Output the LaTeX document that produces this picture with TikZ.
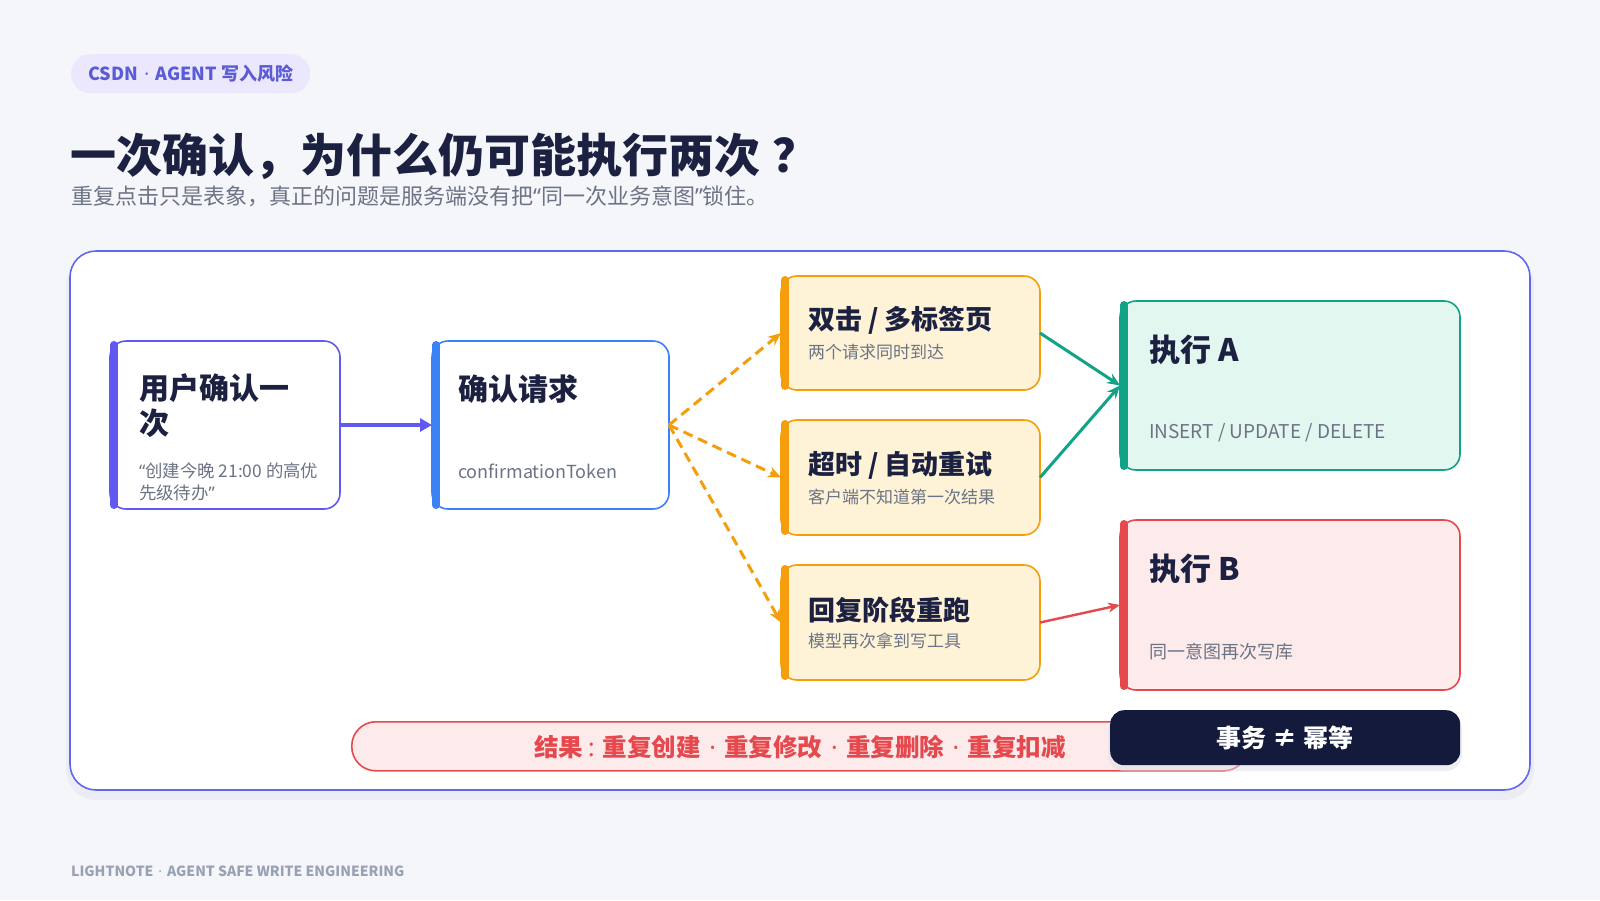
\documentclass[tikz,border=0pt]{standalone}
\usepackage{fontspec}
\setmainfont{Noto Sans CJK SC}
\newfontfamily\latinf{Noto Sans}
\newcommand{\mdot}{\hspace{0.35em}{\latinf ·}\hspace{0.35em}}
\newcommand{\myLQ}{{\latinf “}}
\newcommand{\myRQ}{{\latinf ”}}
\usetikzlibrary{arrows.meta}
\definecolor{bgc}{HTML}{F5F6FA}
\definecolor{ink}{HTML}{1C2142}
\definecolor{muted}{HTML}{6B7385}
\definecolor{indigo}{HTML}{6366F1}
\definecolor{tagfill}{HTML}{EBE8FD}
\definecolor{tagtext}{HTML}{5B5BD6}
\definecolor{purp}{HTML}{6058F0}
\definecolor{bluec}{HTML}{3B82F6}
\definecolor{orangec}{HTML}{F59E0B}
\definecolor{creamc}{HTML}{FEF3D7}
\definecolor{tealc}{HTML}{12A386}
\definecolor{mintc}{HTML}{E3F7F1}
\definecolor{redc}{HTML}{E5484D}
\definecolor{pinkc}{HTML}{FDEAEA}
\definecolor{navyc}{HTML}{131A3B}
\definecolor{footc}{HTML}{98A2B3}
\definecolor{shadowc}{HTML}{DCDFEA}
\begin{document}
\begin{tikzpicture}[x=1pt,y=-1pt,
  card/.style={rectangle, rounded corners=16pt, line width=1.6pt, inner sep=0pt, outer sep=0pt, anchor=north west},
  bar/.style={line width=8pt, line cap=round},
  ttl/.style={anchor=west, inner sep=0pt, outer sep=0pt, font=\bfseries\fontsize{30}{35}\selectfont, text=ink, align=left},
  ottl/.style={ttl, font=\bfseries\fontsize{27}{32}\selectfont},
  sub/.style={anchor=west, inner sep=0pt, outer sep=0pt, font=\fontsize{18}{22}\selectfont, text=muted, align=left},
  osub/.style={sub, font=\fontsize{17}{20}\selectfont},
  flow/.style={line width=3pt}
]
\useasboundingbox (0,0) rectangle (1600,900);
\fill[bgc] (0,0) rectangle (1600,900);

% header
\node[rectangle, rounded corners=19pt, fill=tagfill, minimum width=239pt, minimum height=39pt, anchor=north west, inner sep=0pt] (tag) at (71,54) {};
\node[font=\bfseries\fontsize{18}{22}\selectfont, text=tagtext, inner sep=0pt] (tagt) at (tag.center) {CSDN\mdot AGENT 写入风险};
\node[anchor=west, inner sep=0pt, font=\bfseries\fontsize{46}{52}\selectfont, text=ink] (title) at (70,156) {一次确认，为什么仍可能执行两次\hspace{12pt}？};
\node[anchor=west, inner sep=0pt, font=\fontsize{22}{26}\selectfont, text=muted] (subtitle) at (71,196) {重复点击只是表象，真正的问题是服务端没有把\myLQ 同一次业务意图\myRQ 锁住。};

% panel
\fill[shadowc, opacity=0.35, rounded corners=30pt] (66,256) rectangle (1534,800);
\node[card, rounded corners=26pt, fill=white, draw=indigo, line width=1.6pt, minimum width=1460pt, minimum height=539pt] (panel) at (70,251) {};

% nodes
\node[card, fill=white, draw=purp, minimum width=230pt, minimum height=168pt] (n1) at (110,341) {};
\draw[bar, purp] ([xshift=4pt,yshift=-4pt]n1.north west) -- ([xshift=4pt,yshift=4pt]n1.south west);
\node[ttl] (n1t) at (139,406) {用户确认一\\次};
\node[sub, font=\fontsize{17.4}{22}\selectfont] (n1s) at (139,482) {\myLQ 创建今晚 21:00 的高优\\先级待办\myRQ};

\node[card, fill=white, draw=bluec, minimum width=237pt, minimum height=168pt] (n2) at (432,341) {};
\draw[bar, bluec] ([xshift=4pt,yshift=-4pt]n2.north west) -- ([xshift=4pt,yshift=4pt]n2.south west);
\node[ttl] (n2t) at (458,389) {确认请求};
\node[sub] (n2s) at (458,471) {confirmationToken};

\node[card, fill=creamc, draw=orangec, minimum width=259pt, minimum height=114pt] (n3) at (781,276) {};
\draw[bar, orangec] ([xshift=4pt,yshift=-4pt]n3.north west) -- ([xshift=4pt,yshift=4pt]n3.south west);
\node[ottl] (n3t) at (808,320) {双击 / 多标签页};
\node[osub] (n3s) at (808,352) {两个请求同时到达};

\node[card, fill=creamc, draw=orangec, minimum width=259pt, minimum height=115pt] (n4) at (781,420) {};
\draw[bar, orangec] ([xshift=4pt,yshift=-4pt]n4.north west) -- ([xshift=4pt,yshift=4pt]n4.south west);
\node[ottl] (n4t) at (808,465) {超时 / 自动重试};
\node[osub] (n4s) at (808,497) {客户端不知道第一次结果};

\node[card, fill=creamc, draw=orangec, minimum width=259pt, minimum height=115pt] (n5) at (781,565) {};
\draw[bar, orangec] ([xshift=4pt,yshift=-4pt]n5.north west) -- ([xshift=4pt,yshift=4pt]n5.south west);
\node[ottl] (n5t) at (808,610) {回复阶段重跑};
\node[osub] (n5s) at (808,641) {模型再次拿到写工具};

\node[card, fill=mintc, draw=tealc, minimum width=340pt, minimum height=169pt] (ea) at (1120,301) {};
\draw[bar, tealc] ([xshift=4pt,yshift=-4pt]ea.north west) -- ([xshift=4pt,yshift=4pt]ea.south west);
\node[ttl, font=\bfseries\fontsize{31}{36}\selectfont] (eat) at (1149,350) {执行 A};
\node[sub, font=\fontsize{19}{22}\selectfont] (eas) at (1149,433) {INSERT / UPDATE / DELETE};

\node[card, fill=pinkc, draw=redc, minimum width=340pt, minimum height=170pt] (eb) at (1120,520) {};
\draw[bar, redc] ([xshift=4pt,yshift=-4pt]eb.north west) -- ([xshift=4pt,yshift=4pt]eb.south west);
\node[ttl, font=\bfseries\fontsize{31}{36}\selectfont] (ebt) at (1149,569) {执行 B};
\node[sub] (ebs) at (1149,652) {同一意图再次写库};

% connectors
\draw[purp, line width=4pt, -{Triangle[length=12pt,width=13pt]}] (n1.east) -- (n2.west);
\draw[orangec, flow, dash pattern=on 10pt off 6pt, -{Stealth[length=13pt,width=11pt]}] (n2.east) -- (n3.west);
\draw[orangec, flow, dash pattern=on 10pt off 6pt, -{Stealth[length=13pt,width=11pt]}] (n2.east) -- (n4.west);
\draw[orangec, flow, dash pattern=on 10pt off 6pt, -{Stealth[length=13pt,width=11pt]}] (n2.east) -- (n5.west);
\draw[tealc, flow, -{Stealth[length=13pt,width=11pt]}] (n3.east) -- (ea.west);
\draw[tealc, flow, -{Stealth[length=13pt,width=11pt]}] (n4.east) -- (ea.west);
\draw[redc, line width=2.4pt, -{Stealth[length=12pt,width=10pt]}] (n5.east) -- (eb.west);

% result pill
\node[rectangle, rounded corners=24pt, fill=pinkc, draw=redc, line width=1.6pt, minimum width=896pt, minimum height=49pt, anchor=north west, inner sep=0pt] (res) at (351,721) {};
\node[font=\bfseries\fontsize{24.5}{30}\selectfont, text=redc, inner sep=0pt] (rest) at (800,747) {结果\hspace{5pt}{\latinf :}\hspace{8pt}重复创建\mdot 重复修改\mdot 重复删除\mdot 重复扣减};

\fill[shadowc, opacity=0.5, rounded corners=16pt] (1108,714) rectangle (1462,771);
\node[rectangle, rounded corners=14pt, fill=navyc, minimum width=350pt, minimum height=55pt, anchor=north west, inner sep=0pt] (tx) at (1110,710) {};
\node[font=\bfseries\fontsize{25}{30}\selectfont, text=white, inner sep=0pt] (txt) at (tx.center) {事务 ≠ 幂等};

% footer
\node[anchor=west, inner sep=0pt, font=\bfseries\fontsize{14}{18}\selectfont, text=footc] (foot) at (71,871) {LIGHTNOTE\mdot AGENT SAFE WRITE ENGINEERING};
\end{tikzpicture}
\end{document}
